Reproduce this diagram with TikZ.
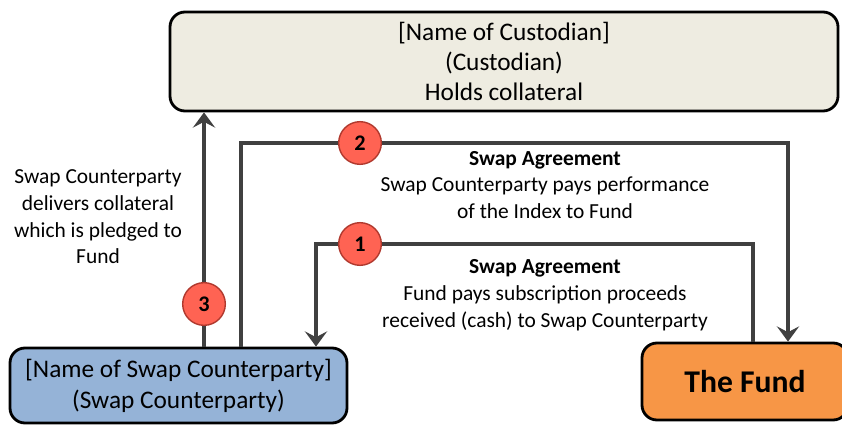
\documentclass[tikz,border=0pt]{standalone}
\usepackage{fontspec}
\setmainfont{Carlito}
\usetikzlibrary{arrows.meta}

\definecolor{custfill}{HTML}{EEECE1}
\definecolor{cptyfill}{HTML}{95B3D7}
\definecolor{fundfill}{HTML}{F79646}
\definecolor{numfill}{HTML}{FF6353}
\definecolor{numline}{HTML}{B0392E}
\definecolor{flowgray}{HTML}{404040}

\begin{document}
\begin{tikzpicture}[x=0.03cm,y=-0.03cm]
	\tikzstyle{box}=[draw=black,line width=2.4pt,rounded corners=0.45cm,align=center,inner sep=0pt]
	\tikzstyle{num}=[draw=numline,fill=numfill,circle,line width=1.2pt,minimum size=1.28cm,inner sep=0pt,font=\fontsize{19}{19}\selectfont\bfseries]
	\tikzstyle{flow}=[draw=flowgray,line width=3.8pt,-{Stealth[length=13pt,width=19pt,inset=5pt]}]
	\tikzstyle{txt}=[align=center,inner sep=0pt,font=\fontsize{18.3}{22.8}\selectfont]
	\useasboundingbox (0,0) rectangle (842,425);

	\node[box,fill=custfill,minimum width=20.04cm,minimum height=2.97cm,font=\fontsize{21.6}{25.6}\selectfont] (cust) at (504,61.5) {[Name of Custodian]\\(Custodian)\\Holds collateral};
	\node[box,fill=cptyfill,minimum width=10.11cm,minimum height=2.25cm,font=\fontsize{21.6}{26.5}\selectfont] (cpty) at (178.5,385.5) {[Name of Swap Counterparty]\\(Swap Counterparty)};
	\node[box,fill=fundfill,minimum width=6.18cm,minimum height=2.31cm,font=\fontsize{27}{30}\selectfont\bfseries] (fund) at (745,381.5) {The Fund};

	\coordinate (k3) at (204,0);
	\coordinate (k2a) at (241,143);
	\coordinate (k2b) at (788,143);
	\coordinate (k1a) at (753,244);
	\coordinate (k1b) at (316,244);

	\draw[flow] (cpty.north -| k3) -- (cust.south -| k3);
	\draw[flow] (cpty.north -| k2a) -- (k2a) -- (k2b) -- (fund.north -| k2b);
	\draw[flow] (fund.north -| k1a) -- (k1a) -- (k1b) -- (cpty.north -| k1b);

	\node[num] (n1) at (360,244) {1};
	\node[num] (n2) at (360,143) {2};
	\node[num] (n3) at (204,304) {3};

	\node[txt] (t3) at (98,217) {Swap Counterparty\\delivers collateral\\which is pledged to\\Fund};
	\node[txt] (t2) at (545,185) {\textbf{Swap Agreement}\\Swap Counterparty pays performance\\of the Index to Fund};
	\node[txt] (t1) at (545,295) {\textbf{Swap Agreement}\\Fund pays subscription proceeds\\received (cash) to Swap Counterparty};
\end{tikzpicture}
\end{document}
